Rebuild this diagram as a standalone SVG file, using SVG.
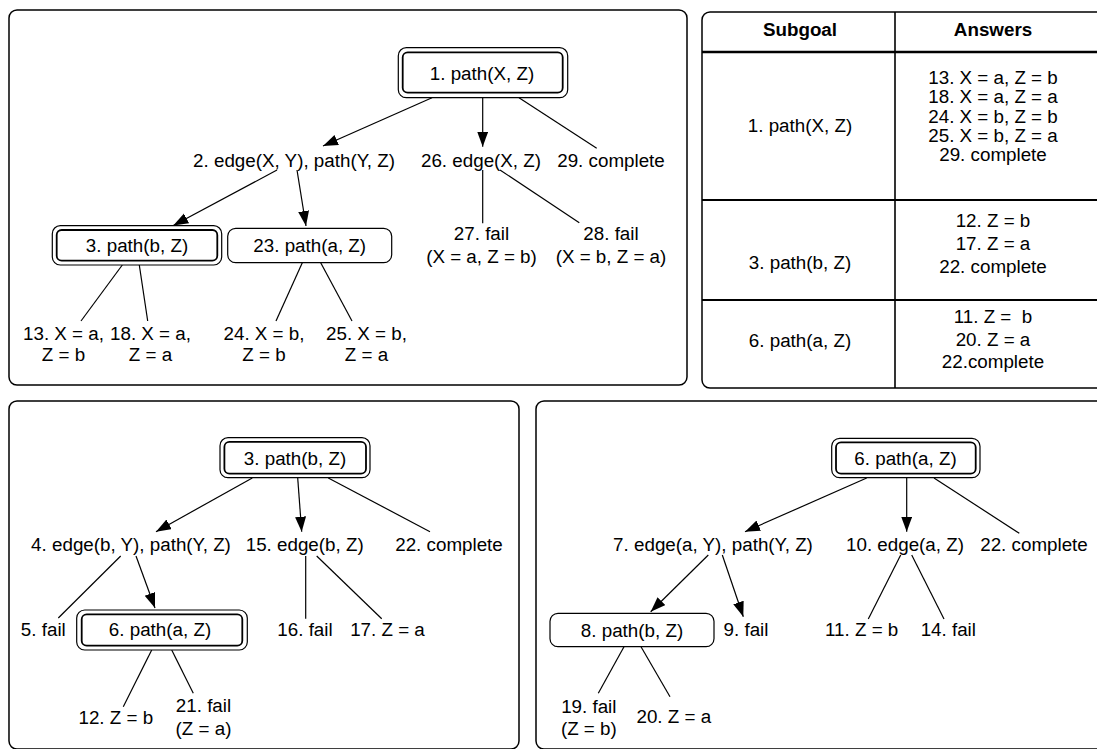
<svg xmlns="http://www.w3.org/2000/svg" width="1097" height="749" viewBox="0 0 1097 749">
<style>
text{font-family:"Liberation Sans",Arial,Helvetica,sans-serif;font-size:18.8px;fill:#000;text-anchor:middle}
.b{font-weight:bold}
.panel{fill:#fff;stroke:#000;stroke-width:1.5}
.o{fill:#fff;stroke:#000;stroke-width:1.2}
.i{fill:none;stroke:#000;stroke-width:1.8}
.s{fill:#fff;stroke:#000;stroke-width:1.2}
.c line{stroke:#000;stroke-width:1.2}
.a{marker-end:url(#ah)}
.tl{stroke:#000;fill:none}
</style>
<defs>
<marker id="ah" markerUnits="userSpaceOnUse" markerWidth="16" markerHeight="12" refX="15" refY="5.5" orient="auto"><path d="M0,0 L15,5.5 L0,11 z" fill="#000"/></marker>
</defs>
<rect width="1097" height="749" fill="#fff"/>

<g id="panels">
<rect class="panel" x="9" y="10" width="678" height="375" rx="8"/>
<rect class="panel" x="9" y="401" width="510" height="348" rx="8"/>
<rect class="panel" x="536" y="401" width="580" height="348" rx="8"/>
</g>

<g id="table">
<rect class="panel" x="702" y="12" width="420" height="376" rx="8"/>
<line class="tl" x1="702" y1="52" x2="1097" y2="52" stroke-width="2.7"/>
<line class="tl" x1="702" y1="200" x2="1097" y2="200" stroke-width="2"/>
<line class="tl" x1="702" y1="300" x2="1097" y2="300" stroke-width="2"/>
<line class="tl" x1="895" y1="12" x2="895" y2="388" stroke-width="1.6"/>
<text class="b" x="800" y="36">Subgoal</text>
<text class="b" x="993" y="36">Answers</text>
<text x="800" y="132">1. path(X, Z)</text>
<text x="993" y="84">13. X = a, Z = b</text>
<text x="993" y="103.3">18. X = a, Z = a</text>
<text x="993" y="122.6">24. X = b, Z = b</text>
<text x="993" y="141.9">25. X = b, Z = a</text>
<text x="993" y="161.2">29. complete</text>
<text x="800" y="268.7">3. path(b, Z)</text>
<text x="993" y="227.4">12. Z = b</text>
<text x="993" y="250">17. Z = a</text>
<text x="993" y="272.7">22. complete</text>
<text x="800" y="346.5">6. path(a, Z)</text>
<text x="993" y="322.7" xml:space="preserve">11. Z =  b</text>
<text x="993" y="345.5">20. Z = a</text>
<text x="993" y="368.3">22.complete</text>
</g>

<g class="c" id="connectors">
<line class="a" x1="432" y1="97.7" x2="323" y2="146"/>
<line class="a" x1="482.7" y1="97.7" x2="482.7" y2="146.7"/>
<line x1="519" y1="97.7" x2="596.7" y2="148.3"/>
<line class="a" x1="277" y1="170" x2="173.3" y2="225.5"/>
<line class="a" x1="297" y1="170" x2="306" y2="226"/>
<line x1="482.7" y1="170" x2="482.7" y2="223.3"/>
<line x1="500" y1="170" x2="579.3" y2="222.7"/>
<line x1="122.3" y1="265" x2="81" y2="321"/>
<line x1="139.3" y1="265" x2="147.7" y2="321"/>
<line x1="302.3" y1="262.7" x2="276" y2="321"/>
<line x1="320.7" y1="262.7" x2="352" y2="321"/>

<line class="a" x1="252.3" y1="478" x2="156" y2="531.7"/>
<line class="a" x1="297.7" y1="478" x2="301.7" y2="531.7"/>
<line x1="328.3" y1="478" x2="430" y2="531.7"/>
<line class="a" x1="136" y1="556" x2="155" y2="608"/>
<line x1="120.7" y1="556" x2="58.3" y2="618"/>
<line x1="305.7" y1="556" x2="305.7" y2="618.7"/>
<line x1="316.7" y1="556" x2="381.7" y2="618.7"/>
<line x1="151.7" y1="650" x2="123.3" y2="706.7"/>
<line x1="171.7" y1="650" x2="193.3" y2="693.3"/>

<line class="a" x1="866.7" y1="478" x2="745" y2="531.7"/>
<line class="a" x1="906.7" y1="478" x2="906.7" y2="531.7"/>
<line x1="934" y1="478" x2="1019.3" y2="533.3"/>
<line class="a" x1="708.3" y1="555" x2="650.7" y2="611.7"/>
<line class="a" x1="722.3" y1="555" x2="743.3" y2="616.7"/>
<line x1="900.7" y1="555" x2="868.3" y2="619"/>
<line x1="911.7" y1="555" x2="944" y2="619"/>
<line x1="624" y1="646.7" x2="598.3" y2="693.3"/>
<line x1="641" y1="646.7" x2="670" y2="696.7"/>
</g>

<g id="n1">
<rect class="o" x="398.3" y="47.7" width="169.4" height="50" rx="8"/>
<rect class="i" x="402.7" y="52.3" width="160" height="40.4" rx="5"/>
<text x="482" y="79.5">1. path(X, Z)</text>
</g>
<g id="n2"><text x="294" y="167">2. edge(X, Y), path(Y, Z)</text></g>
<g id="n26"><text x="481" y="167">26. edge(X, Z)</text></g>
<g id="n29"><text x="611" y="167">29. complete</text></g>
<g id="n3a">
<rect class="o" x="52.3" y="225.7" width="169.4" height="39.3" rx="8"/>
<rect class="i" x="56.7" y="230" width="160.6" height="30.7" rx="5"/>
<text x="137" y="252">3. path(b, Z)</text>
</g>
<g id="n23">
<rect class="s" x="227.7" y="228.3" width="164" height="34.4" rx="8"/>
<text x="309.7" y="252">23. path(a, Z)</text>
</g>
<g id="n27"><text x="481.5" y="240">27. fail</text><text x="481.5" y="263">(X = a, Z = b)</text></g>
<g id="n28"><text x="611" y="240">28. fail</text><text x="611" y="263">(X = b, Z = a)</text></g>
<g id="n13"><text x="63.5" y="340">13. X = a,</text><text x="63.5" y="361">Z = b</text></g>
<g id="n18"><text x="150.5" y="340">18. X = a,</text><text x="150.5" y="361">Z = a</text></g>
<g id="n24"><text x="264" y="340">24. X = b,</text><text x="264" y="361">Z = b</text></g>
<g id="n25"><text x="366.5" y="340">25. X = b,</text><text x="366.5" y="361">Z = a</text></g>

<g id="n3b">
<rect class="o" x="220" y="437.7" width="150" height="40" rx="8"/>
<rect class="i" x="224.4" y="441.9" width="141.6" height="31.8" rx="5"/>
<text x="295" y="464.5">3. path(b, Z)</text>
</g>
<g id="n4"><text x="131" y="550.7">4. edge(b, Y), path(Y, Z)</text></g>
<g id="n15"><text x="304.7" y="550.7">15. edge(b, Z)</text></g>
<g id="n22b"><text x="449" y="550.7">22. complete</text></g>
<g id="n5"><text x="43.3" y="635.5">5. fail</text></g>
<g id="n6b">
<rect class="o" x="76.7" y="610" width="170.6" height="40" rx="8"/>
<rect class="i" x="81.7" y="614.3" width="160.6" height="31.4" rx="5"/>
<text x="160" y="636">6. path(a, Z)</text>
</g>
<g id="n16"><text x="305" y="635.5">16. fail</text></g>
<g id="n17"><text x="387.5" y="635.5">17. Z = a</text></g>
<g id="n12"><text x="115.8" y="724">12. Z = b</text></g>
<g id="n21"><text x="203.5" y="711.5">21. fail</text><text x="203.5" y="735">(Z = a)</text></g>

<g id="n6c">
<rect class="o" x="831.7" y="438.3" width="148.3" height="39.4" rx="8"/>
<rect class="i" x="836" y="442.3" width="139.7" height="31.4" rx="5"/>
<text x="905.5" y="464.5">6. path(a, Z)</text>
</g>
<g id="n7"><text x="713" y="550.5">7. edge(a, Y), path(Y, Z)</text></g>
<g id="n10"><text x="905" y="550.5">10. edge(a, Z)</text></g>
<g id="n22c"><text x="1034" y="550.5">22. complete</text></g>
<g id="n8">
<rect class="s" x="550" y="613.3" width="164" height="33.4" rx="8"/>
<text x="632" y="636.5">8. path(b, Z)</text>
</g>
<g id="n9"><text x="746" y="636">9. fail</text></g>
<g id="n11"><text x="861.7" y="636">11. Z = b</text></g>
<g id="n14"><text x="948.3" y="636">14. fail</text></g>
<g id="n19"><text x="588.8" y="713">19. fail</text><text x="588.8" y="735">(Z = b)</text></g>
<g id="n20"><text x="673.8" y="723">20. Z = a</text></g>
</svg>
